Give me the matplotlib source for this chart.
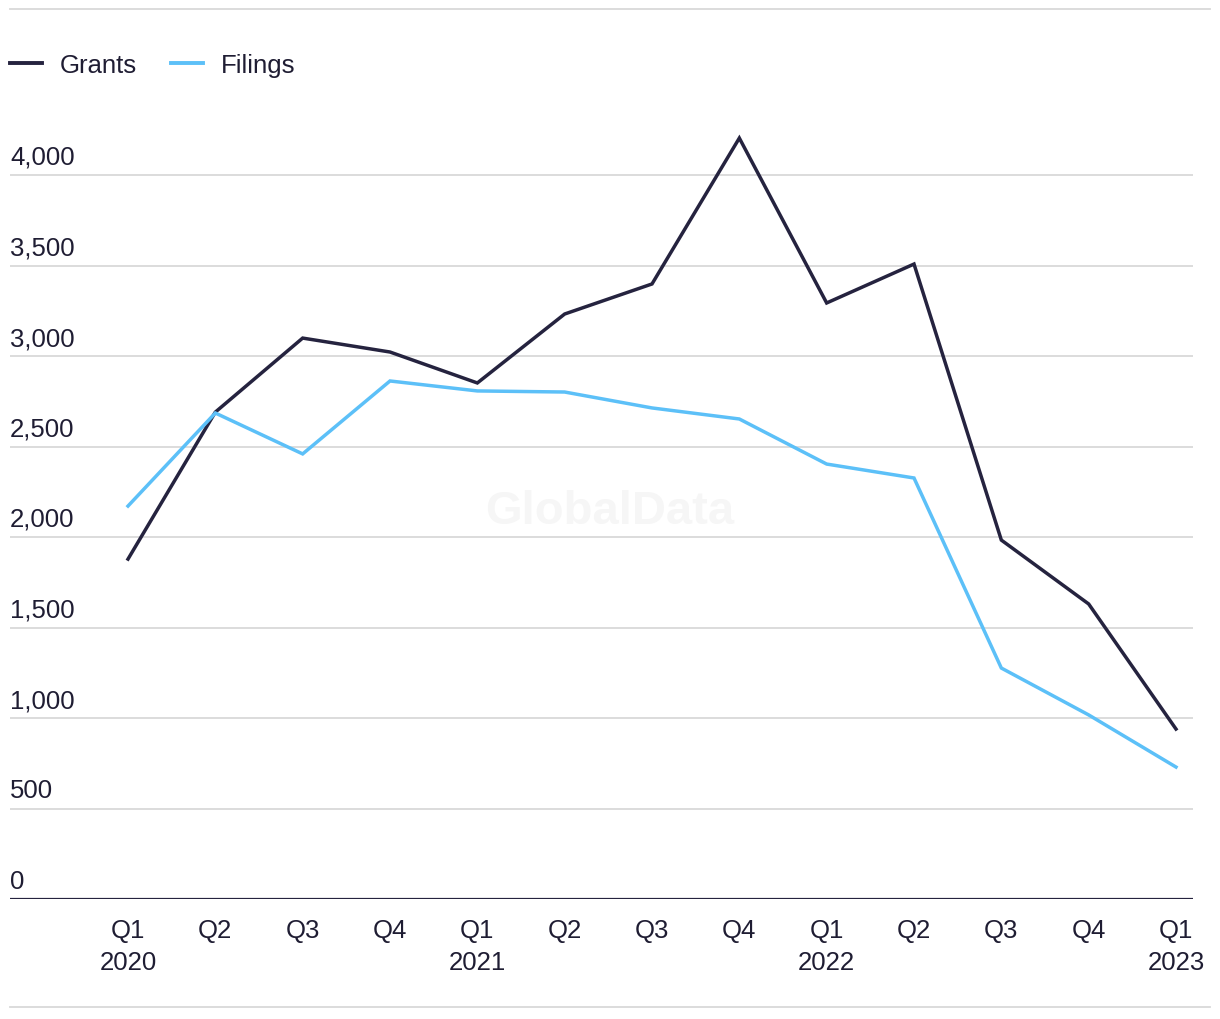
import matplotlib.pyplot as plt
import matplotlib.transforms as mtransforms
from matplotlib.lines import Line2D

# quarterly patent counts
quarters = ["Q1\n2020", "Q2", "Q3", "Q4", "Q1\n2021", "Q2", "Q3", "Q4",
            "Q1\n2022", "Q2", "Q3", "Q4", "Q1\n2023"]
grants = [1878, 2690, 3099, 3022, 2851, 3232, 3398, 4204, 3293, 3508, 1983, 1630, 939]
filings = [2171, 2685, 2459, 2862, 2807, 2801, 2713, 2652, 2403, 2326, 1276, 1017, 729]
y_ticks = [0, 500, 1000, 1500, 2000, 2500, 3000, 3500, 4000]

navy = "#25233f"
sky = "#5cc0f8"
grid_c = "#d9d9d9"
txt_c = "#1f1d33"

plt.rcParams['font.family'] = ['Liberation Sans', 'DejaVu Sans']
FS = 18.5

W, H = 1220, 1020
fig = plt.figure(figsize=(W / 100, H / 100), dpi=100)

# axes box in pixels: x 10..1193, y 122..900 (from top)
ax_left, ax_right, ax_top, ax_bot = 10, 1193, 122, 900
ax = fig.add_axes([ax_left / W, (H - ax_bot) / H,
                   (ax_right - ax_left) / W, (ax_bot - ax_top) / H])

px_per_q = (1176 - 128) / 12
ax.set_xlim(-(128 - ax_left) / px_per_q, 12 + (ax_right - 1176) / px_per_q)
ax.set_ylim(0, (ax_bot - ax_top) / 0.181)

xs = list(range(len(quarters)))
ax.plot(xs, grants, color=navy, lw=2.5, solid_joinstyle='miter', zorder=3)
ax.plot(xs, filings, color=sky, lw=2.5, solid_joinstyle='miter', zorder=3)

for v in y_ticks[1:]:
    ax.axhline(v, color=grid_c, lw=1.3, zorder=1)
ax.axhline(0, color=navy, lw=1.6, zorder=2)

off = mtransforms.ScaledTranslation(0, 6 / 100, fig.dpi_scale_trans)
for v in y_ticks:
    ax.text(0, v, f"{v:,}", transform=ax.get_yaxis_transform() + off,
            ha='left', va='bottom', fontsize=FS, color=txt_c)

ax.set_xticks(xs)
ax.set_xticklabels(quarters, fontsize=FS, color=txt_c, linespacing=1.4)
ax.tick_params(axis='x', length=0, pad=14)
ax.set_yticks([])
for s in ax.spines.values():
    s.set_visible(False)

# watermark
ax.text(0.5, 0.498, "GlobalData", transform=fig.transFigure, ha='center', va='center',
        fontsize=34, fontweight='bold', color='#f6f6f6', zorder=0)

# top and bottom rules
fig.add_artist(Line2D([10 / W, 1210 / W], [1 - 10 / H] * 2, color=grid_c, lw=1.3))
fig.add_artist(Line2D([10 / W, 1210 / W], [1 - 1008 / H] * 2, color=grid_c, lw=1.3))

handles = [Line2D([], [], color=navy, lw=2.8), Line2D([], [], color=sky, lw=2.8)]
fig.legend(handles, ["Grants", "Filings"], loc='center left',
           bbox_to_anchor=(10 / W, 1 - 66 / H), frameon=False, ncol=2,
           fontsize=FS, handlelength=1.25, handletextpad=0.7, columnspacing=1.3,
           borderpad=0, borderaxespad=0, labelcolor=txt_c)

fig.savefig("out.png", dpi=100)
